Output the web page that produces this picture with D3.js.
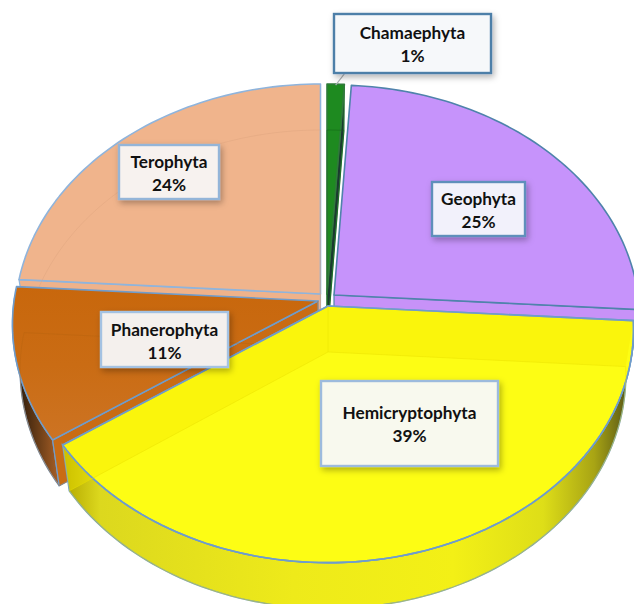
<!DOCTYPE html>
<html>
<head>
<meta charset="utf-8">
<script src="https://cdn.jsdelivr.net/npm/d3@7"></script>
<style>
  html, body { margin: 0; padding: 0; background: #fff; }
  svg { display: block; }
</style>
</head>
<body>
<div id="chart"></div>
<script>
// Data
var categories = ['Chamaephyta', 'Geophyta', 'Hemicryptophyta', 'Phanerophyta', 'Terophyta'];
var shares = [1, 25, 39.4, 10.6, 24];

// Exposed variables
var attrs = {
  svgWidth: 634,
  svgHeight: 604,
  radiusX: 304,
  radiusY: 231,
  perspective: 0.1,
  depth: 46,
  lowerScaleX: 0.975,
  stroke: '#6f9ccb',
  font: 'Lato, "Open Sans", sans-serif'
};

// How each slice sits on the page, same order as categories
var sliceStyle = [
  { apex: [327, 294], face: '#1e8a20', cut: 'end', cutFill: '#1b3a30', stroke: '#2f7a3a', inner: '#0f5f14' },
  { apex: [334, 295], face: '#c693fb', cut: 'end', cutFill: '#c792f8', stroke: '#4f83ab', inner: null },
  { apex: [328, 306], face: '#fdfd14', cut: null, cutFill: null, stroke: '#6f9ccb', inner: '#e8e000', wall: 'url(#wallYellow)', glass: '#f6e800' },
  { apex: [318, 301], face: 'url(#facePhan)', cut: 'start', cutFill: '#c96c14', stroke: '#6f9ccb', inner: '#b96410', wall: 'url(#wallPhan)' },
  { apex: [320.5, 294], face: '#f0b48c', cut: 'start', cutFill: '#efb28a', stroke: '#8fb4dc', inner: '#dda47e' }
];

var labelBoxes = [
  { x: 334, y: 14, w: 157, h: 59, fill: '#f6f8fa', stroke: '#4d7fa8', base: [25, 48] },
  { x: 432, y: 182, w: 93, h: 54, fill: '#f2f1fb', stroke: '#5e8fbb', base: [23, 46] },
  { x: 321, y: 381, w: 177, h: 85, fill: '#f8f9ee', stroke: '#9dbbdd', base: [38, 61] },
  { x: 101, y: 312, w: 127, h: 55, fill: '#f4f0ed', stroke: '#a4c2e2', base: [24, 47] },
  { x: 119, y: 145, w: 100, h: 54, fill: '#f7f2ef', stroke: '#94b5d8', base: [23, 46] }
];

var svg = d3.select('#chart').append('svg')
  .attr('width', attrs.svgWidth)
  .attr('height', attrs.svgHeight)
  .attr('font-family', attrs.font);

var defs = svg.append('defs');

function gradient(id, x1, x2, y1, y2, stops) {
  var g = defs.append('linearGradient').attr('id', id)
    .attr('gradientUnits', 'userSpaceOnUse')
    .attr('x1', x1).attr('x2', x2).attr('y1', y1).attr('y2', y2);
  stops.forEach(s => g.append('stop').attr('offset', s[0]).attr('stop-color', s[1]));
}

gradient('wallYellow', 66, 634, 0, 0, [
  [0, '#b5aa00'], [0.06, '#dcd81e'], [0.4, '#eeea1a'], [0.68, '#f3f016'],
  [0.84, '#dede18'], [0.93, '#a8a414'], [1, '#4b4a14']
]);
gradient('wallPhan', 15, 64, 0, 0, [[0, '#24160a'], [0.5, '#6d3f18'], [1, '#b8682a']]);
gradient('facePhan', 0, 0, 285, 445, [[0, '#c8670c'], [0.5, '#ca6c14'], [1, '#cd7424']]);

var shadow = defs.append('filter').attr('id', 'boxShadow')
  .attr('x', '-20%').attr('y', '-20%').attr('width', '140%').attr('height', '150%');
shadow.append('feDropShadow')
  .attr('dx', 2).attr('dy', 3).attr('stdDeviation', 3)
  .attr('flood-color', '#000').attr('flood-opacity', 0.3);

// Tilted disc with a bit of perspective, front edge nearer than the back
var xScale = d3.scaleLinear().domain([-1, 1]).range([-attrs.radiusX, attrs.radiusX]);
var yScale = d3.scaleLinear().domain([-1, 1]).range([-attrs.radiusY, attrs.radiusY]);

function project(angle, radius, apex, lower) {
  var X = Math.sin(angle) * radius;
  var Y = -Math.cos(angle) * radius;
  var w = 1 / (1 - attrs.perspective * Y);
  return [
    apex[0] + xScale(X) * w * (lower ? attrs.lowerScaleX : 1),
    apex[1] + yScale(Y) * w + (lower ? attrs.depth : 0)
  ];
}

var line = d3.line();

function arcPoints(d, apex, lower) {
  var steps = Math.max(4, Math.ceil((d.endAngle - d.startAngle) * 40));
  return d3.range(steps + 1).map(i => {
    var a = d.startAngle + (d.endAngle - d.startAngle) * i / steps;
    return project(a, 1, apex, lower);
  });
}

function facePath(d, apex, lower) {
  var c = lower ? [apex[0], apex[1] + attrs.depth] : apex;
  return line([c].concat(arcPoints(d, apex, lower))) + 'Z';
}

function cutPath(angle, apex) {
  return line([
    apex,
    project(angle, 1, apex, false),
    project(angle, 1, apex, true),
    [apex[0], apex[1] + attrs.depth]
  ]) + 'Z';
}

function wallPath(d, apex) {
  var top = arcPoints(d, apex, false);
  var low = arcPoints(d, apex, true);
  var keep = (p, i) => Math.cos(d.startAngle + (d.endAngle - d.startAngle) * i / (top.length - 1)) < 0.02;
  return line(top.filter(keep).concat(low.filter(keep).reverse())) + 'Z';
}

var arcs = d3.pie().sort(null).value(d => d)(shares);

// Back slices first, the yellow one lies over everything
var drawOrder = [4, 0, 1, 3, 2];
var slices = svg.append('g').attr('class', 'slices');

drawOrder.forEach(i => {
  var d = arcs[i];
  var s = sliceStyle[i];
  var g = slices.append('g').attr('class', 'slice ' + categories[i]);

  if (s.wall) {
    g.append('path')
      .attr('d', wallPath(d, s.apex))
      .attr('fill', s.wall)
      .attr('stroke', s.stroke)
      .attr('stroke-width', 1.3);
  }

  if (s.cut) {
    var a = s.cut === 'start' ? d.startAngle : d.endAngle;
    g.append('path')
      .attr('d', cutPath(a, s.apex))
      .attr('fill', s.cutFill)
      .attr('stroke', s.stroke)
      .attr('stroke-width', 1.2);
  }

  g.append('path')
    .attr('d', facePath(d, s.apex, false))
    .attr('fill', s.face)
    .attr('stroke', s.stroke)
    .attr('stroke-width', 1.6)
    .attr('stroke-linejoin', 'round');

  // The glassy look: cut faces showing through the top
  if (s.glass) {
    [d.startAngle, d.endAngle].forEach(a => {
      g.append('path')
        .attr('d', cutPath(a, s.apex))
        .attr('fill', s.glass)
        .attr('opacity', 0.4);
    });
    g.append('path')
      .attr('d', facePath(d, s.apex, false))
      .attr('fill', 'none')
      .attr('stroke', s.stroke)
      .attr('stroke-width', 1.6);
  }

  if (s.inner) {
    g.append('path')
      .attr('d', facePath(d, s.apex, true))
      .attr('fill', 'none')
      .attr('stroke', s.inner)
      .attr('stroke-width', 1)
      .attr('opacity', 0.45);

    g.append('line')
      .attr('x1', s.apex[0]).attr('y1', s.apex[1])
      .attr('x2', s.apex[0]).attr('y2', s.apex[1] + attrs.depth)
      .attr('stroke', s.inner)
      .attr('stroke-width', 1)
      .attr('opacity', 0.45);
  }
});

// Leader for the smallest slice
var leaderEnd = project((arcs[0].startAngle + arcs[0].endAngle) / 2, 1, sliceStyle[0].apex, false);
svg.append('line')
  .attr('x1', labelBoxes[0].x + 11).attr('y1', labelBoxes[0].y + labelBoxes[0].h)
  .attr('x2', leaderEnd[0]).attr('y2', leaderEnd[1] + 1)
  .attr('stroke', '#a9aeb2')
  .attr('stroke-width', 1.2);

// Labels
var label = svg.append('g').attr('class', 'labels')
  .selectAll('g')
  .data(categories)
  .join('g')
  .attr('transform', (d, i) => `translate(${labelBoxes[i].x},${labelBoxes[i].y})`);

label.append('rect')
  .attr('width', (d, i) => labelBoxes[i].w)
  .attr('height', (d, i) => labelBoxes[i].h)
  .attr('fill', (d, i) => labelBoxes[i].fill)
  .attr('stroke', (d, i) => labelBoxes[i].stroke)
  .attr('stroke-width', 2.4)
  .attr('filter', 'url(#boxShadow)');

label.append('text')
  .attr('x', (d, i) => labelBoxes[i].w / 2)
  .attr('y', (d, i) => labelBoxes[i].base[0])
  .attr('text-anchor', 'middle')
  .attr('font-size', 17.2)
  .attr('font-weight', 700)
  .attr('fill', '#111')
  .text(d => d);

label.append('text')
  .attr('x', (d, i) => labelBoxes[i].w / 2)
  .attr('y', (d, i) => labelBoxes[i].base[1])
  .attr('text-anchor', 'middle')
  .attr('font-size', 17.2)
  .attr('font-weight', 700)
  .attr('fill', '#111')
  .text((d, i) => Math.round(shares[i]) + '%');
</script>
</body>
</html>
